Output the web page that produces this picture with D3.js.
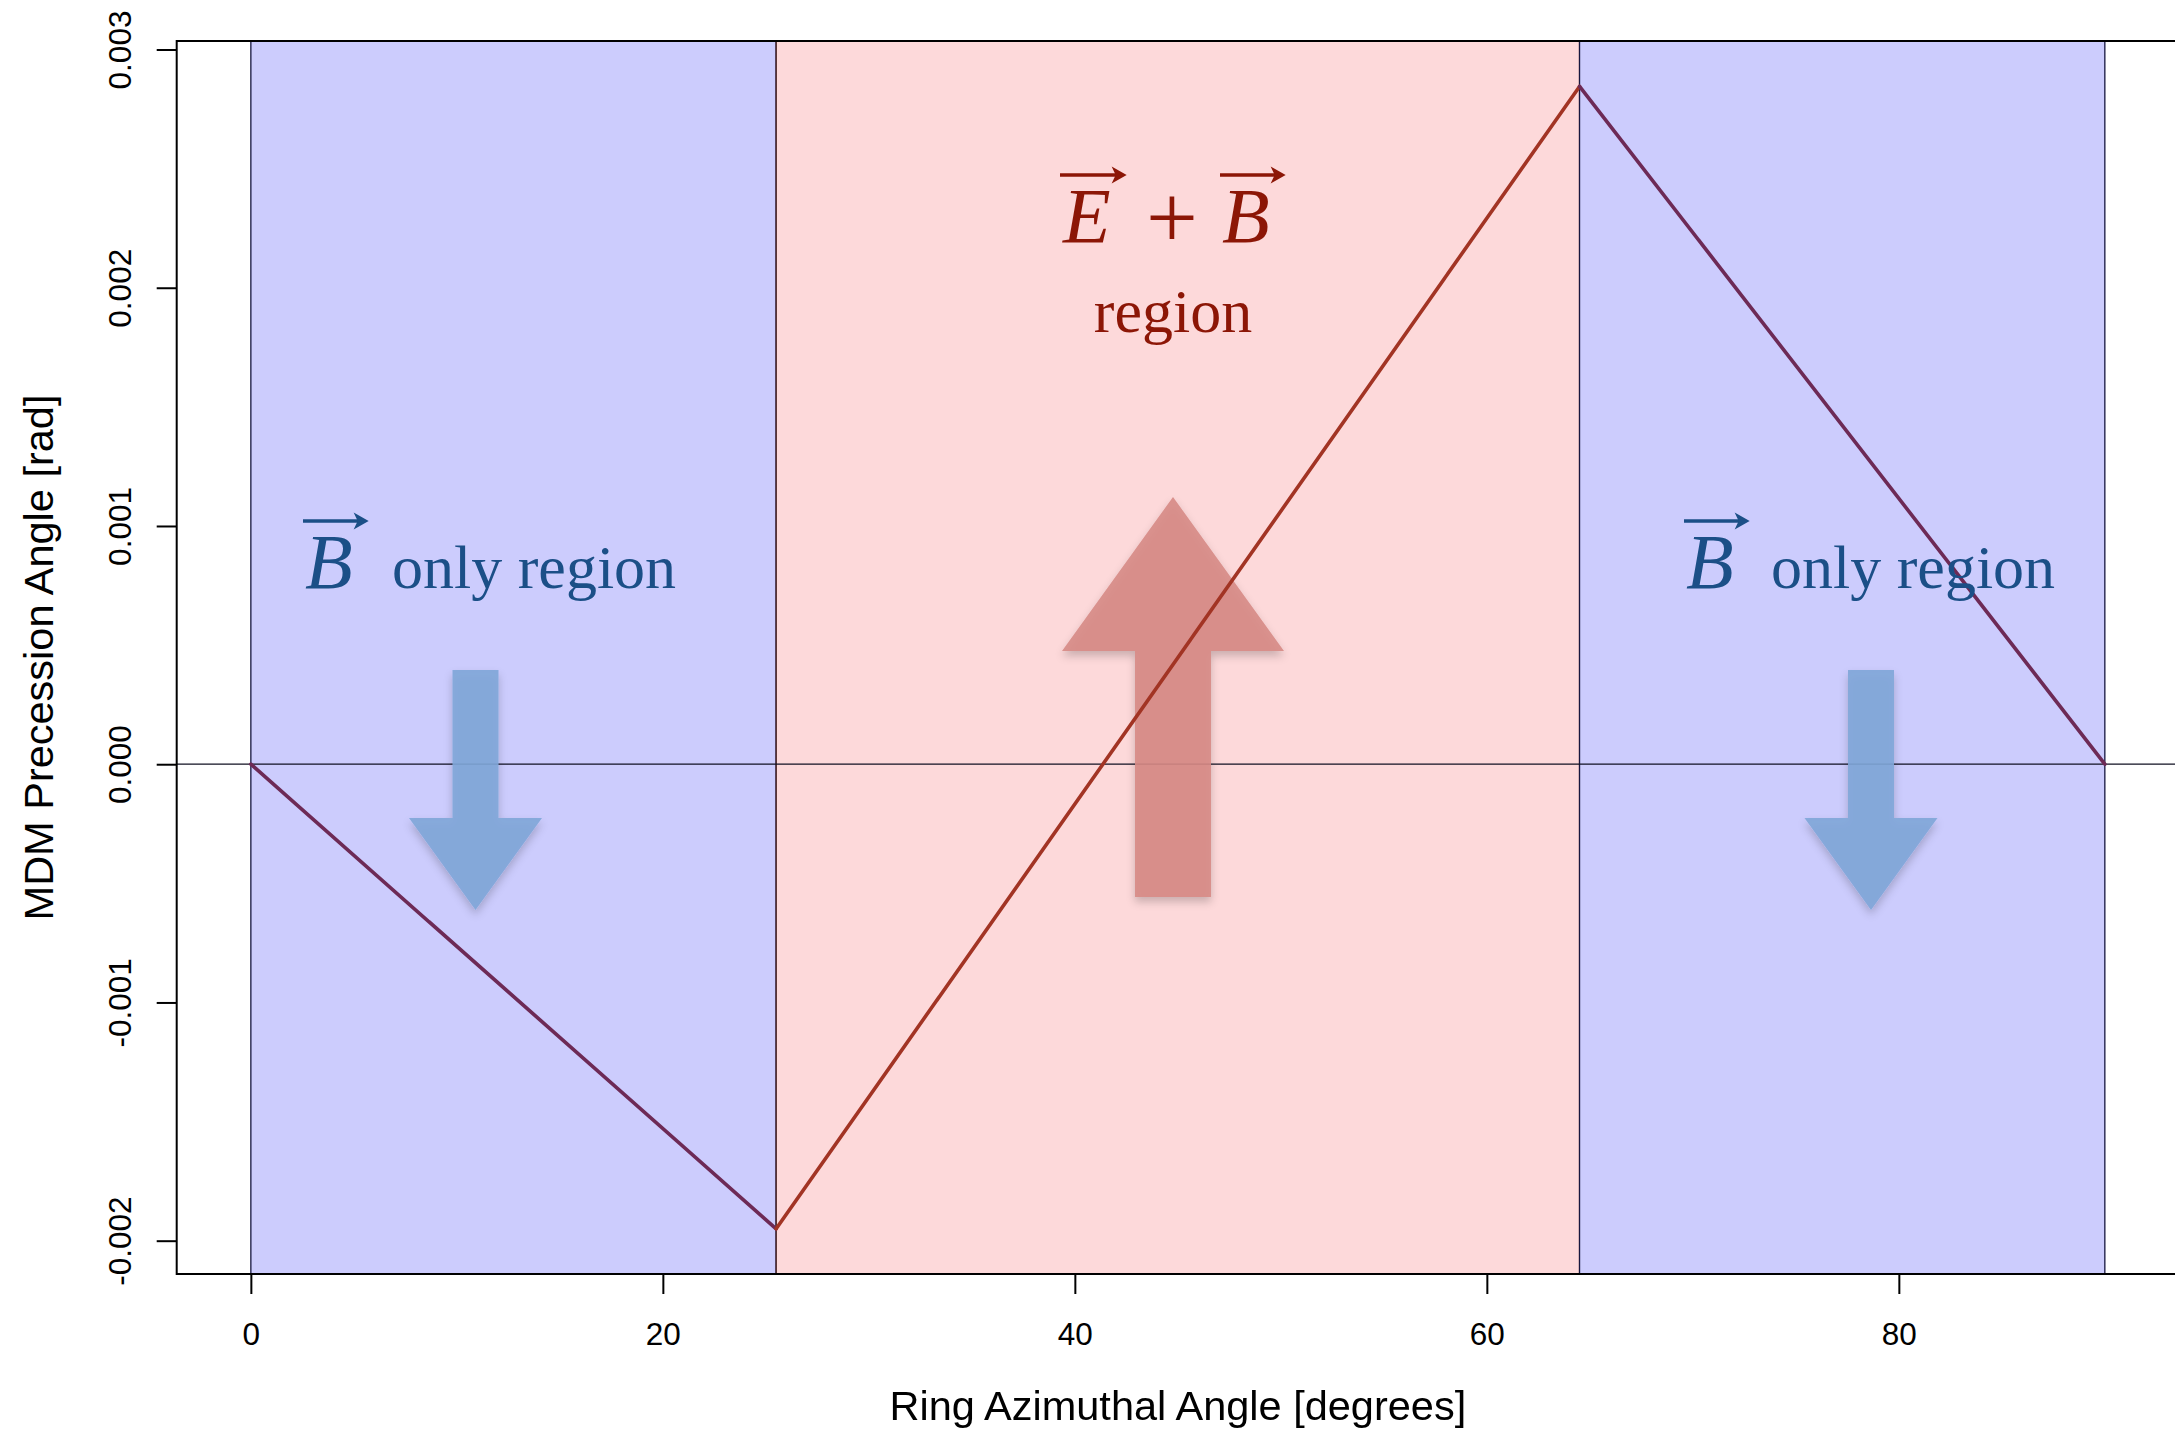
<!DOCTYPE html>
<html>
<head>
<meta charset="utf-8">
<script src="https://cdn.jsdelivr.net/npm/d3@7"></script>
<style>
  html, body { margin: 0; padding: 0; background: #ffffff; }
  svg { display: block; }
</style>
</head>
<body>
<svg id="chart" width="2175" height="1431"></svg>
<script>
// Ring azimuthal angle (degrees) and the MDM precession angle (rad) at each vertex
const azimuth = [0, 25.5, 64.5, 90];
const precession = [0, -0.00195, 0.002845, 0];

// Field regions along the ring
const regionStart = [0, 25.5, 64.5];
const regionEnd = [25.5, 64.5, 90];
const regionKind = ["B", "EB", "B"];

// Tick values
const xTicks = [0, 20, 40, 60, 80];
const yTicks = [-0.002, -0.001, 0.000, 0.001, 0.002, 0.003];

const svg = d3.select("#chart");
const plot = { left: 176.7, right: 2179, top: 41, bottom: 1274 };

const x = d3.scaleLinear().domain([-3.6, 93.6]).range([plot.left, plot.right]);
const y = d3.scaleLinear().domain([-0.0021398, 0.0030357]).range([plot.bottom, plot.top]);

const fill = { B: "#ccccfd", EB: "#fdd9da" };
const edge = { B: "#16163f", EB: "#3a1212" };
const lineCol = { B: "#6d2a56", EB: "#a23424" };

const defs = svg.append("defs");
const shadow = defs.append("filter").attr("id", "soft").attr("x", "-30%").attr("y", "-30%")
  .attr("width", "160%").attr("height", "160%");
shadow.append("feDropShadow").attr("dx", 0).attr("dy", 5).attr("stdDeviation", 4)
  .attr("flood-color", "#000").attr("flood-opacity", 0.22);

// Region backgrounds
const regions = regionStart.map((s, i) => ({ s, e: regionEnd[i], k: regionKind[i] }));
svg.append("g").selectAll("rect").data(regions).join("rect")
  .attr("x", d => x(d.s)).attr("y", plot.top)
  .attr("width", d => x(d.e) - x(d.s)).attr("height", plot.bottom - plot.top)
  .attr("fill", d => fill[d.k])
  .attr("stroke", d => edge[d.k]).attr("stroke-width", 1.3);

// Zero line
svg.append("line")
  .attr("x1", plot.left).attr("x2", plot.right)
  .attr("y1", y(0)).attr("y2", y(0))
  .attr("stroke", "#111122").attr("stroke-width", 1.2);

// Direction arrows
function arrowPath(cx, yTail, yHeadBase, yTip, shaftW, headW) {
  const p = d3.path();
  p.moveTo(cx - shaftW / 2, yTail);
  p.lineTo(cx + shaftW / 2, yTail);
  p.lineTo(cx + shaftW / 2, yHeadBase);
  p.lineTo(cx + headW / 2, yHeadBase);
  p.lineTo(cx, yTip);
  p.lineTo(cx - headW / 2, yHeadBase);
  p.lineTo(cx - shaftW / 2, yHeadBase);
  p.closePath();
  return p.toString();
}
const arrows = svg.append("g").attr("filter", "url(#soft)");
arrows.append("path")
  .attr("d", arrowPath(475.5, 670, 818, 910, 46, 133))
  .attr("fill", "#7fa6d8").attr("opacity", 0.9);
arrows.append("path")
  .attr("d", arrowPath(1871, 670, 818, 910, 46, 133))
  .attr("fill", "#7fa6d8").attr("opacity", 0.9);
arrows.append("path")
  .attr("d", arrowPath(1173, 897, 651, 497, 76, 222))
  .attr("fill", "#d68a85").attr("opacity", 0.9);

// Precession curve, one segment per region
const segs = d3.range(azimuth.length - 1).map(i => ({
  x0: azimuth[i], y0: precession[i], x1: azimuth[i + 1], y1: precession[i + 1], k: regionKind[i]
}));
svg.append("g").selectAll("line").data(segs).join("line")
  .attr("x1", d => x(d.x0)).attr("y1", d => y(d.y0))
  .attr("x2", d => x(d.x1)).attr("y2", d => y(d.y1))
  .attr("stroke", d => lineCol[d.k]).attr("stroke-width", 3.6)
  .attr("stroke-linecap", "round");

// Axes
const axisFont = "'Liberation Sans', Arial, Helvetica, sans-serif";
const xAxis = svg.append("g").attr("transform", `translate(0,${plot.bottom})`)
  .call(d3.axisBottom(x).tickValues(xTicks).tickSize(20).tickSizeOuter(0).tickFormat(d3.format("d")));
xAxis.select(".domain").remove();
xAxis.selectAll(".tick line").attr("stroke", "#000").attr("stroke-width", 2);
xAxis.selectAll(".tick text").attr("y", 71).attr("dy", null)
  .attr("font-family", axisFont).attr("font-size", 31.5).attr("fill", "#000");

const yAxis = svg.append("g").attr("transform", `translate(${plot.left},0)`)
  .call(d3.axisLeft(y).tickValues(yTicks).tickSize(20).tickSizeOuter(0).tickFormat(d3.format(".3f")));
yAxis.select(".domain").remove();
yAxis.selectAll(".tick line").attr("stroke", "#000").attr("stroke-width", 2);
yAxis.selectAll(".tick text")
  .attr("x", null).attr("dy", null)
  .attr("transform", "translate(-46,0) rotate(-90)")
  .attr("text-anchor", "middle")
  .attr("font-family", axisFont).attr("font-size", 31.5).attr("fill", "#000")
  .text(d => d3.format(".3f")(d).replace("−", "-"));

// Plot frame
svg.append("rect")
  .attr("x", plot.left).attr("y", plot.top)
  .attr("width", plot.right - plot.left).attr("height", plot.bottom - plot.top)
  .attr("fill", "none").attr("stroke", "#000").attr("stroke-width", 2);

// Axis titles
svg.append("text")
  .attr("x", (plot.left + plot.right) / 2).attr("y", 1420)
  .attr("text-anchor", "middle")
  .attr("font-family", axisFont).attr("font-size", 41.5).attr("fill", "#000")
  .text("Ring Azimuthal Angle [degrees]");
svg.append("text")
  .attr("transform", `translate(53,${(plot.top + plot.bottom) / 2}) rotate(-90)`)
  .attr("text-anchor", "middle")
  .attr("font-family", axisFont).attr("font-size", 41.5).attr("fill", "#000")
  .text("MDM Precession Angle [rad]");

// Region annotations
const serif = "'Liberation Serif', 'Times New Roman', serif";
function vecArrow(g, x1, x2, yy, color) {
  g.append("line").attr("x1", x1).attr("x2", x2 - 4).attr("y1", yy).attr("y2", yy)
    .attr("stroke", color).attr("stroke-width", 3.4);
  g.append("path")
    .attr("d", `M${x2},${yy} L${x2 - 15},${yy - 8.5} L${x2 - 11},${yy} L${x2 - 15},${yy + 8.5} Z`)
    .attr("fill", color);
}
function vecLetter(g, letter, xPos, baseline, color) {
  const t = g.append("text").attr("x", xPos).attr("y", baseline)
    .attr("font-family", serif).attr("font-style", "italic").attr("font-size", 78)
    .attr("fill", color).text(letter);
  const bb = t.node().getBBox();
  vecArrow(g, bb.x - 2, bb.x + bb.width + 16, baseline - 67, color);
}

const blueText = "#1b4f87";
const redText = "#8c1606";

const labels = svg.append("g");
// Left B-only label
vecLetter(labels, "B", 305, 588, blueText);
labels.append("text").attr("x", 392).attr("y", 588)
  .attr("font-family", serif).attr("font-size", 62).attr("fill", blueText)
  .text("only region");
// Right B-only label
vecLetter(labels, "B", 1686, 588, blueText);
labels.append("text").attr("x", 1771).attr("y", 588)
  .attr("font-family", serif).attr("font-size", 62).attr("fill", blueText)
  .text("only region");
// Central E + B label
vecLetter(labels, "E", 1063, 242, redText);
labels.append("text").attr("x", 1172).attr("y", 248).attr("text-anchor", "middle")
  .attr("font-family", serif).attr("font-size", 92).attr("fill", redText).text("+");
vecLetter(labels, "B", 1222, 242, redText);
labels.append("text").attr("x", 1173).attr("y", 332).attr("text-anchor", "middle")
  .attr("font-family", serif).attr("font-size", 62).attr("fill", redText)
  .text("region");
</script>
</body>
</html>
